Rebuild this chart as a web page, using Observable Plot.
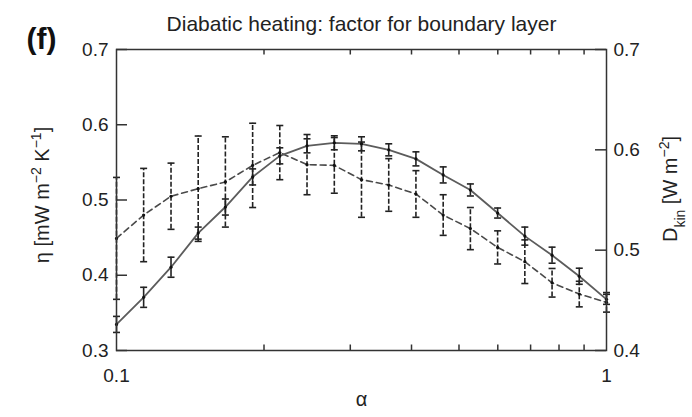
<!DOCTYPE html>
<html>
<head>
<meta charset="utf-8">
<script src="https://cdn.jsdelivr.net/npm/d3@7"></script>
<script src="https://cdn.jsdelivr.net/npm/@observablehq/plot@0.6"></script>
<style>
  html, body { margin: 0; padding: 0; background: #fff; }
  #chart { width: 692px; height: 417px; }
</style>
</head>
<body>
<div id="chart"></div>
<script>
// α values (log-spaced sample points)
const alpha = [0.1, 0.1136, 0.1292, 0.1468, 0.1668, 0.1896, 0.2154, 0.2448, 0.2783, 0.3162,
               0.3594, 0.4084, 0.4642, 0.5275, 0.5995, 0.6813, 0.7743, 0.8799, 1.0];

// dashed series: η [mW m^-2 K^-1] (left axis), mean and half-width of error bar
const etaMean = [0.449, 0.480, 0.505, 0.515, 0.524, 0.546, 0.563, 0.547, 0.546, 0.527,
                 0.520, 0.508, 0.480, 0.462, 0.437, 0.418, 0.390, 0.375, 0.364];
const etaErr  = [0.081, 0.062, 0.044, 0.070, 0.060, 0.056, 0.036, 0.040, 0.037, 0.050,
                 0.035, 0.031, 0.027, 0.028, 0.022, 0.029, 0.019, 0.017, 0.013];

// solid series: D_kin [W m^-2] (right axis), mean and half-width of error bar
const dkinMean = [0.426, 0.453, 0.483, 0.517, 0.543, 0.573, 0.594, 0.604, 0.607, 0.606,
                  0.600, 0.591, 0.575, 0.560, 0.537, 0.514, 0.495, 0.474, 0.451];
const dkinErr  = [0.008, 0.010, 0.010, 0.006, 0.008, 0.008, 0.008, 0.007, 0.007, 0.007,
                  0.006, 0.007, 0.008, 0.006, 0.005, 0.009, 0.008, 0.008, 0.005];

// axis ticks
const etaTicks = [0.3, 0.4, 0.5, 0.6, 0.7];
const dkinTicks = [0.4, 0.5, 0.6, 0.7];
const alphaLabels = [0.1, 1];
const alphaMinor = [0.2, 0.3, 0.4, 0.5, 0.6, 0.7, 0.8, 0.9];

// right axis (D_kin 0.4–0.7) shares the frame with left axis (η 0.3–0.7)
const dToEta = d => 0.3 + (d - 0.4) * (0.4 / 0.3);
const etaToD = e => 0.4 + (e - 0.3) * (0.3 / 0.4);

const rows = alpha.map((a, i) => ({
  alpha: a,
  eta: etaMean[i], etaLo: etaMean[i] - etaErr[i], etaHi: etaMean[i] + etaErr[i],
  dk: dToEta(dkinMean[i]),
  dkLo: dToEta(dkinMean[i] - dkinErr[i]), dkHi: dToEta(dkinMean[i] + dkinErr[i])
}));
const capsEta = rows.flatMap(r => [{alpha: r.alpha, y: r.etaLo}, {alpha: r.alpha, y: r.etaHi}]);
const capsDk = rows.flatMap(r => [{alpha: r.alpha, y: r.dkLo}, {alpha: r.alpha, y: r.dkHi}]);

const capSymbol = {
  draw(context, size) {
    const w = Math.sqrt(size / Math.PI);
    context.moveTo(-w, 0);
    context.lineTo(w, 0);
  }
};

const W = 692, H = 417, mL = 116, mR = 86, mT = 49, mB = 67;
const fw = W - mL - mR, fh = H - mT - mB;
const ink = "#222";
const FS = 19;

const chart = Plot.plot({
  width: W, height: H,
  marginLeft: mL, marginRight: mR, marginTop: mT, marginBottom: mB,
  x: {type: "log", domain: [0.1, 1], axis: null},
  y: {domain: [0.3, 0.7], axis: null},
  style: {fontFamily: "'Liberation Sans', Arial, Helvetica, sans-serif", fontSize: FS + "px", color: ink, background: "#fff", overflow: "visible"},
  marks: [
    // inward ticks
    Plot.tickY(etaTicks, {y: d => d, insetRight: fw - 11, stroke: "#333", strokeWidth: 1.5}),
    Plot.tickY(dkinTicks.map(dToEta), {y: d => d, insetLeft: fw - 11, stroke: "#333", strokeWidth: 1.5}),
    Plot.tickX(alphaMinor, {x: d => d, insetBottom: fh - 5.5, stroke: "#333", strokeWidth: 1.5}),
    Plot.tickX(alphaMinor, {x: d => d, insetTop: fh - 5.5, stroke: "#333", strokeWidth: 1.5}),
    // tick labels
    Plot.axisY({ticks: etaTicks, tickSize: 0, tickPadding: 8, tickFormat: d3.format(".1f"), label: null, fontSize: FS}),
    Plot.axisY({anchor: "right", ticks: dkinTicks.map(dToEta), tickSize: 0, tickPadding: 7,
                tickFormat: e => d3.format(".1f")(etaToD(e)), label: null, fontSize: FS}),
    Plot.axisX({ticks: alphaLabels, tickSize: 0, tickPadding: 18, tickFormat: d => String(d), label: null, fontSize: FS}),
    // lines
    Plot.line(rows, {x: "alpha", y: "eta", stroke: "#4a4a4a", strokeWidth: 1.6, strokeDasharray: "6,4"}),
    Plot.line(rows, {x: "alpha", y: "dk", stroke: "#5c5c5c", strokeWidth: 1.8}),
    // error bars
    Plot.ruleX(rows, {x: "alpha", y1: "etaLo", y2: "etaHi", stroke: ink, strokeWidth: 1.6, strokeDasharray: "5,2"}),
    Plot.dot(capsEta, {x: "alpha", y: "y", symbol: capSymbol, r: 3.5, stroke: ink, strokeWidth: 1.6, fill: "none"}),
    Plot.ruleX(rows, {x: "alpha", y1: "dkLo", y2: "dkHi", stroke: ink, strokeWidth: 1.6}),
    Plot.dot(capsDk, {x: "alpha", y: "y", symbol: capSymbol, r: 3.5, stroke: ink, strokeWidth: 1.6, fill: "none"}),
    Plot.dot(rows, {x: "alpha", y: "eta", r: 1.6, fill: "#111", stroke: "none"}),
    Plot.dot(rows, {x: "alpha", y: "dk", r: 1.6, fill: "#111", stroke: "none"}),
    Plot.frame({stroke: "#333", strokeWidth: 1.5}),
    // titles and axis labels
    Plot.text(["Diabatic heating: factor for boundary layer"], {frameAnchor: "top", dy: -33, fontSize: 21, fill: ink}),
    Plot.text(["(f)"], {frameAnchor: "top-left", textAnchor: "middle", dx: -75, dy: -22, fontSize: 30, fontWeight: "bold", fill: "#111"}),
    Plot.text(["α"], {frameAnchor: "bottom", dy: 55, fontSize: 20, fill: ink}),
    Plot.text(["η [mW m-2 K-1]"], {frameAnchor: "left", textAnchor: "middle", dx: -74, dy: -5, rotate: -90, fontSize: 20, fill: ink}),
    Plot.text(["Dkin [W m-2]"], {frameAnchor: "right", textAnchor: "middle", dx: 64, dy: -11, rotate: -90, fontSize: 20, fill: ink})
  ]
});

// add superscripts/subscripts to the axis labels
d3.select(chart).selectAll("text").each(function() {
  const t = this.textContent;
  const sup = s => `<tspan baseline-shift="super" font-size="70%">${s}</tspan>`;
  const sub = s => `<tspan baseline-shift="sub" font-size="70%">${s}</tspan>`;
  if (t === "η [mW m-2 K-1]") this.innerHTML = `η [mW m${sup("−2")} K${sup("−1")}]`;
  if (t === "Dkin [W m-2]") this.innerHTML = `D${sub("kin")} [W m${sup("−2")}]`;
});

document.getElementById("chart").appendChild(chart);
</script>
</body>
</html>
